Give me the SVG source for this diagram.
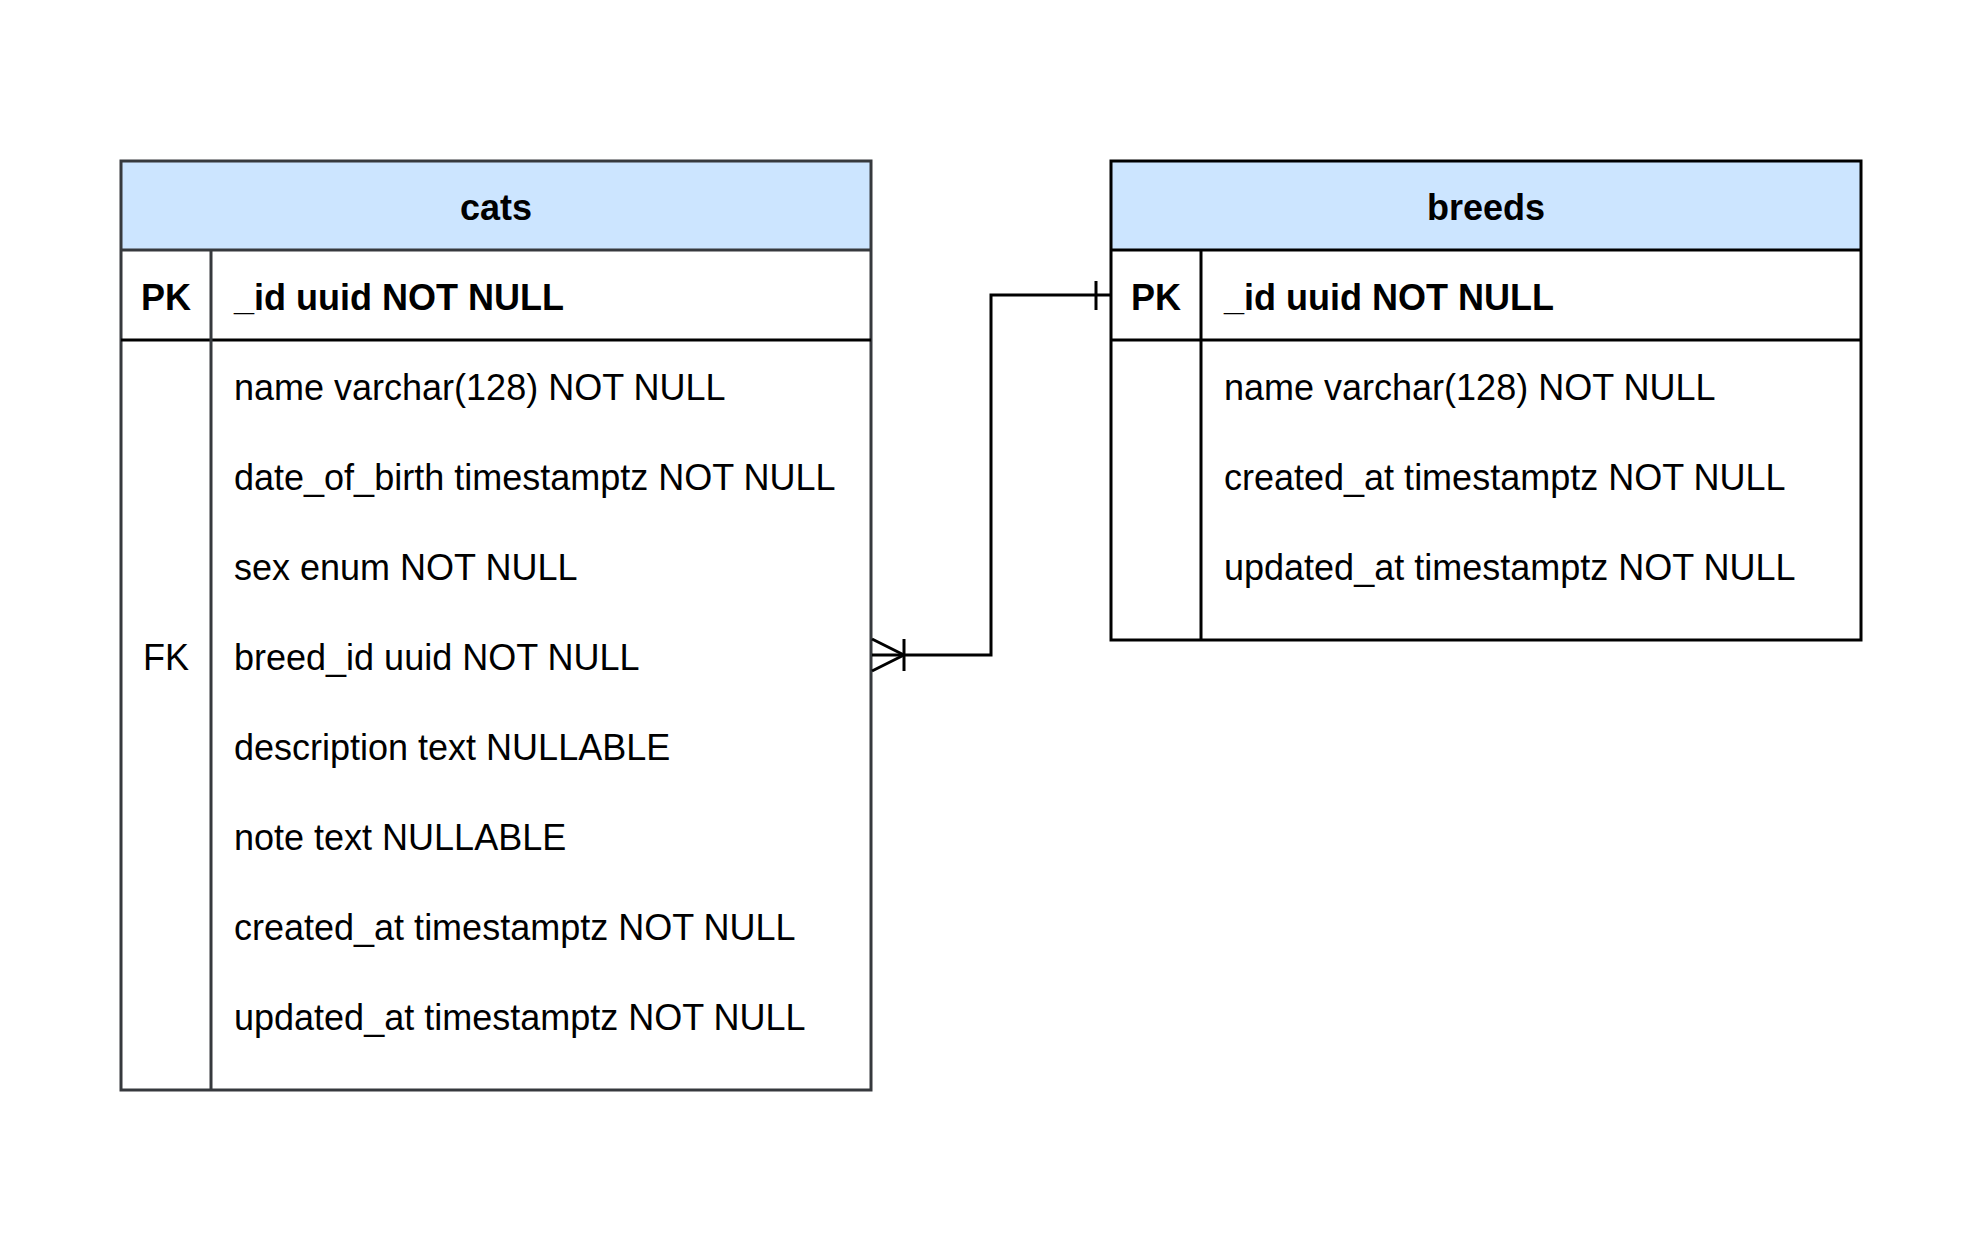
<svg xmlns="http://www.w3.org/2000/svg" width="1983" height="1233" viewBox="0 0 1983 1233">
<style>
text{font-family:"Liberation Sans",Arial,sans-serif;font-size:36px;fill:#000}
.b{font-weight:bold}
.c{text-anchor:middle}
.hdr{fill:#cce5ff}
.cats{stroke:#36393d;stroke-width:3;fill:none}
.breeds{stroke:#000;stroke-width:3;fill:none}
.conn{stroke:#000;stroke-width:3;fill:none}
</style>
<rect width="1983" height="1233" fill="#fff"/>
<g id="cats">
<rect x="121" y="161" width="750" height="89" class="hdr"/>
<rect x="121" y="161" width="750" height="929" class="cats"/>
<line x1="121" y1="250" x2="871" y2="250" class="cats"/>
<line x1="121" y1="340" x2="871" y2="340" class="cats" style="stroke:#000"/>
<line x1="211" y1="250" x2="211" y2="1090" class="cats"/>
<text x="496" y="219.5" class="b c">cats</text>
<text x="166" y="309.5" class="b c">PK</text>
<text x="234" y="309.5" class="b">_id uuid NOT NULL</text>
<text x="234" y="399.5">name varchar(128) NOT NULL</text>
<text x="234" y="489.5">date_of_birth timestamptz NOT NULL</text>
<text x="234" y="579.5">sex enum NOT NULL</text>
<text x="166" y="669.5" class="c">FK</text>
<text x="234" y="669.5">breed_id uuid NOT NULL</text>
<text x="234" y="759.5">description text NULLABLE</text>
<text x="234" y="849.5">note text NULLABLE</text>
<text x="234" y="939.5">created_at timestamptz NOT NULL</text>
<text x="234" y="1029.5">updated_at timestamptz NOT NULL</text>
</g>
<g id="breeds">
<rect x="1111" y="161" width="750" height="89" class="hdr"/>
<rect x="1111" y="161" width="750" height="479" class="breeds"/>
<line x1="1111" y1="250" x2="1861" y2="250" class="breeds"/>
<line x1="1111" y1="340" x2="1861" y2="340" class="breeds"/>
<line x1="1201" y1="250" x2="1201" y2="640" class="breeds"/>
<text x="1486" y="219.5" class="b c">breeds</text>
<text x="1156" y="309.5" class="b c">PK</text>
<text x="1224" y="309.5" class="b">_id uuid NOT NULL</text>
<text x="1224" y="399.5">name varchar(128) NOT NULL</text>
<text x="1224" y="489.5">created_at timestamptz NOT NULL</text>
<text x="1224" y="579.5">updated_at timestamptz NOT NULL</text>
</g>
<g id="connectors">
<polyline points="1111,295 991,295 991,655 872,655" class="conn"/>
<line x1="1096" y1="281" x2="1096" y2="310" class="conn"/>
<line x1="904" y1="639" x2="904" y2="671" class="conn"/>
<line x1="872" y1="639" x2="904" y2="655" class="conn"/>
<line x1="872" y1="671" x2="904" y2="655" class="conn"/>
</g>
</svg>
